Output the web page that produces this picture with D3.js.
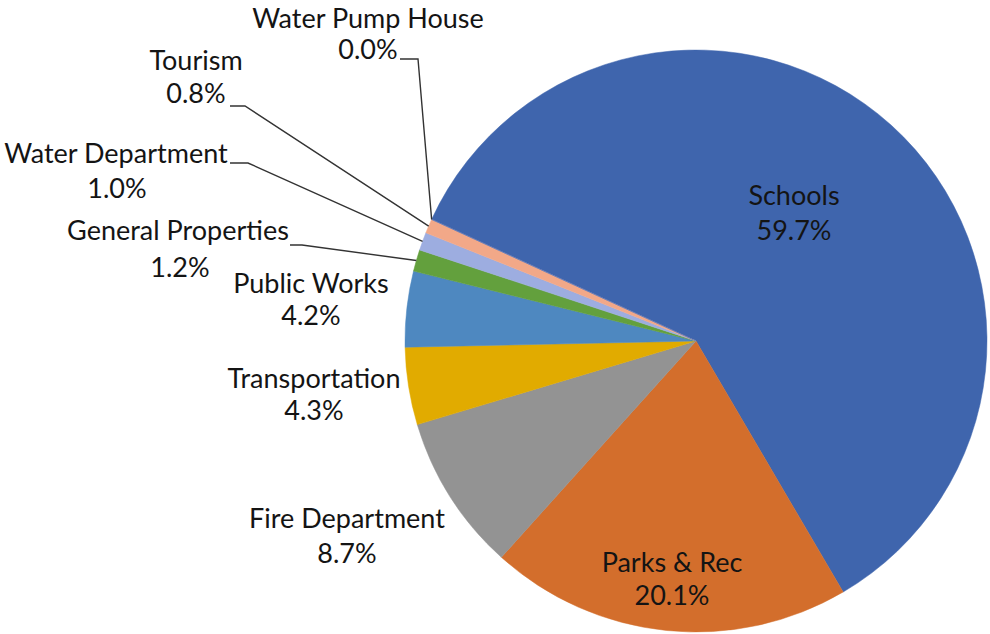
<!DOCTYPE html>
<html>
<head>
<meta charset="utf-8">
<script src="https://cdn.jsdelivr.net/npm/d3@7"></script>
<style>
  body { margin: 0; background: #fff; }
  svg { display: block; }
  text { font-family: Lato, "Open Sans", sans-serif; fill: #141414; }
</style>
</head>
<body>
<svg id="chart" width="990" height="634"></svg>
<script>
// departments, clockwise from the start angle
var categories = ["Schools", "Parks & Rec", "Fire Department", "Transportation", "Public Works",
  "General Properties", "Water Department", "Tourism", "Water Pump House"];
var percents = [59.7, 20.1, 8.7, 4.3, 4.2, 1.2, 1.0, 0.8, 0.0];
var colors = ["#3f65ad", "#d36e2c", "#939393", "#e1ab00", "#4e88c0",
  "#63a03d", "#9dade0", "#f2a888", "#4472c4"];

var width = 990, height = 634
var cx = 696, cy = 341, radius = 291
var startAngle = -65.3 * Math.PI / 180

// label placement: name x/baseline, value x/baseline, leader elbow (only for outside labels)
var labelPos = [
  { nx: 794, ny: 205, vx: 794, vy: 240 },
  { nx: 672, ny: 572, vx: 672, vy: 605 },
  { nx: 347, ny: 528, vx: 347, vy: 563 },
  { nx: 314, ny: 388, vx: 314, vy: 420 },
  { nx: 311, ny: 293, vx: 311, vy: 325 },
  { nx: 178, ny: 240, vx: 180, vy: 277, lx: 290, ly: 245, ex: 302 },
  { nx: 116, ny: 163, vx: 117, vy: 198, lx: 230, ly: 163, ex: 248 },
  { nx: 196, ny: 70, vx: 196, vy: 103, lx: 230, ly: 106, ex: 245 },
  { nx: 368, ny: 27.5, vx: 368, vy: 59, lx: 400, ly: 59, ex: 418 }
]

var data = categories.map(function(c, i) {
  return { name: c, value: percents[i], color: colors[i], pos: labelPos[i] }
})

var svg = d3.select("#chart")
var g = svg.append("g").attr("transform", "translate(" + cx + "," + cy + ")")

var pie = d3.pie()
  .sort(null)
  .value(function(d) { return d.value })
  .startAngle(startAngle)
  .endAngle(startAngle + 2 * Math.PI)

var arc = d3.arc().innerRadius(0).outerRadius(radius)
var arcs = pie(data)

g.selectAll("path.slice")
  .data(arcs)
  .enter()
  .append("path")
  .attr("class", "slice")
  .attr("d", arc)
  .style("fill", function(d) { return d.data.color })
  .style("stroke", function(d) { return d.data.color })
  .style("stroke-width", 0.5)

// leader lines for the small slices
arcs.forEach(function(d) {
  var p = d.data.pos
  if (p.lx === undefined) return
  var a = (d.startAngle + d.endAngle) / 2
  var px = cx + radius * Math.sin(a)
  var py = cy - radius * Math.cos(a)
  svg.append("polyline")
    .attr("points", [[p.lx, p.ly], [p.ex, p.ly], [px, py]].map(function(q) { return q.join(",") }).join(" "))
    .style("fill", "none")
    .style("stroke", "#333")
    .style("stroke-width", 1.4)
})

var fmt = d3.format(".1f")
arcs.forEach(function(d) {
  var p = d.data.pos
  svg.append("text")
    .attr("x", p.nx).attr("y", p.ny)
    .attr("text-anchor", "middle")
    .style("font-size", "27px")
    .text(d.data.name)
  svg.append("text")
    .attr("x", p.vx).attr("y", p.vy)
    .attr("text-anchor", "middle")
    .style("font-size", "27px")
    .text(fmt(d.data.value) + "%")
})
</script>
</body>
</html>
